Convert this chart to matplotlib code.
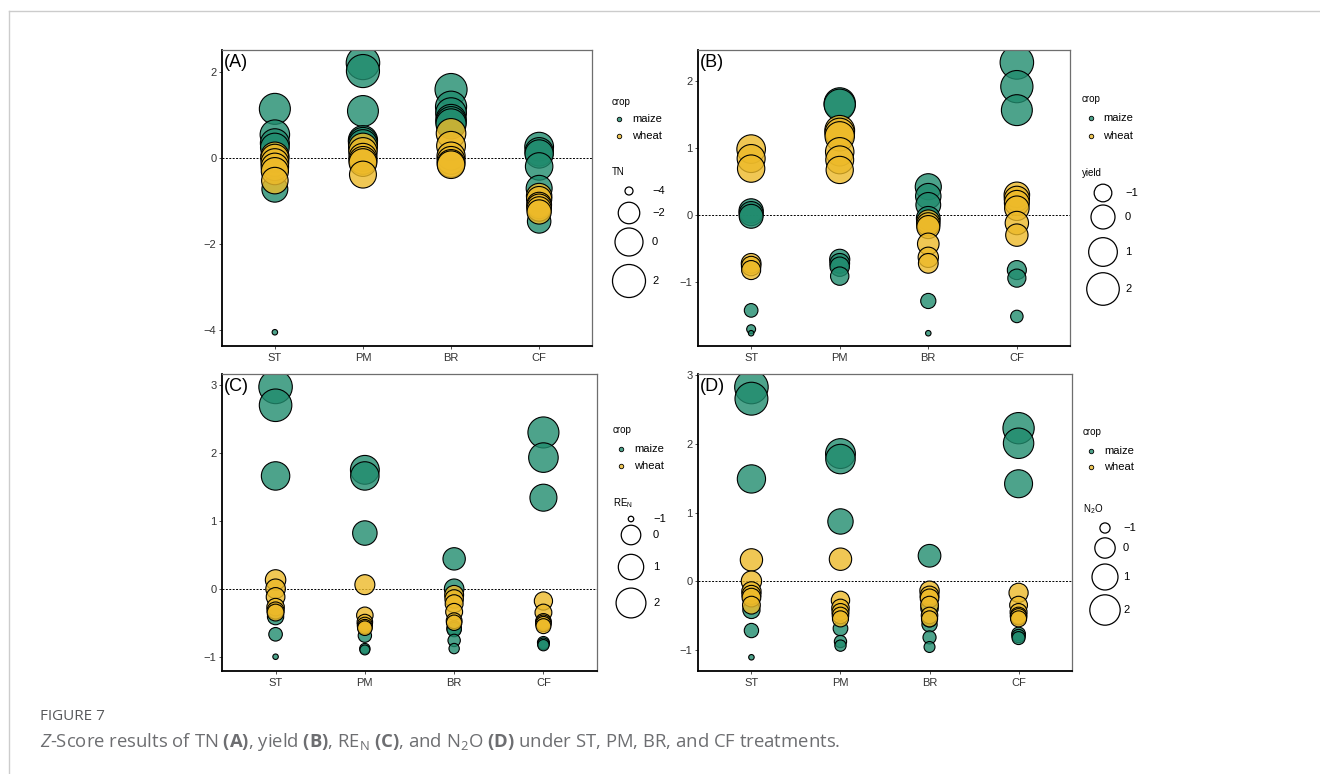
import matplotlib.pyplot as plt
import numpy as np
from matplotlib.lines import Line2D

plt.rcParams['font.family'] = ['Liberation Sans', 'DejaVu Sans']
plt.rcParams['mathtext.fontset'] = 'custom'
plt.rcParams['mathtext.rm'] = 'Open Sans'
plt.rcParams['mathtext.it'] = 'Open Sans:italic'
plt.rcParams['mathtext.bf'] = 'Open Sans:bold'

treatments = ['ST', 'PM', 'BR', 'CF']

# Z-scores, one list per treatment (ST, PM, BR, CF)
tn_maize = [[1.15, 0.55, 0.35, 0.25, -0.72, -4.05],
            [2.22, 2.03, 1.10, 0.42, 0.38, 0.33],
            [1.60, 1.20, 1.05, 0.90, 0.85, 0.80],
            [0.27, 0.15, 0.10, -0.19, -0.70, -1.47]]
tn_wheat = [[0.05, 0.00, -0.10, -0.20, -0.30, -0.52],
            [0.25, 0.15, 0.02, -0.05, -0.10, -0.38],
            [0.58, 0.29, 0.05, -0.05, -0.12, -0.15],
            [-0.88, -0.95, -1.08, -1.12, -1.18, -1.25]]

yield_maize = [[0.06, 0.02, -0.02, -1.42, -1.70, -1.76],
               [1.66, 1.64, -0.66, -0.72, -0.77, -0.91],
               [0.42, 0.28, 0.15, -0.05, -1.28, -1.76],
               [2.27, 1.91, 1.56, -0.82, -0.94, -1.51]]
yield_wheat = [[0.98, 0.84, 0.69, -0.72, -0.76, -0.82],
               [1.26, 1.22, 1.17, 0.94, 0.82, 0.67],
               [-0.10, -0.14, -0.18, -0.43, -0.63, -0.72],
               [0.30, 0.24, 0.18, 0.10, -0.12, -0.30]]

ren_maize = [[2.97, 2.70, 1.66, -0.41, -0.67, -1.00],
             [1.75, 1.66, 0.82, -0.69, -0.88, -0.90],
             [0.44, 0.00, -0.58, -0.60, -0.76, -0.88],
             [2.30, 1.93, 1.34, -0.79, -0.81, -0.83]]
ren_wheat = [[0.13, 0.00, -0.12, -0.27, -0.32, -0.35],
             [0.06, -0.39, -0.49, -0.53, -0.56, -0.58],
             [-0.09, -0.15, -0.22, -0.34, -0.47, -0.50],
             [-0.18, -0.35, -0.48, -0.50, -0.52, -0.55]]

n2o_maize = [[2.83, 2.66, 1.49, -0.42, -0.72, -1.11],
             [1.86, 1.78, 0.87, -0.69, -0.88, -0.94],
             [0.37, -0.40, -0.63, -0.82, -0.96, -0.55],
             [2.23, 2.01, 1.42, -0.77, -0.80, -0.83]]
n2o_wheat = [[0.31, 0.00, -0.15, -0.20, -0.24, -0.35],
             [0.32, -0.28, -0.39, -0.45, -0.50, -0.55],
             [-0.14, -0.21, -0.25, -0.35, -0.50, -0.55],
             [-0.17, -0.35, -0.45, -0.50, -0.52, -0.55]]

panel_tags = ['(A)', '(B)', '(C)', '(D)']
size_titles = ['TN', 'yield', 'RE$_\\mathregular{N}$', 'N$_\\mathregular{2}$O']
size_breaks = [[-4, -2, 0, 2], [-1, 0, 1, 2], [-1, 0, 1, 2], [-1, 0, 1, 2]]

maize_col = (0.13, 0.55, 0.43, 0.8)
wheat_col = (0.93, 0.73, 0.16, 0.8)

W, H = 1320, 774
fig = plt.figure(figsize=(W / 100, H / 100), dpi=100)

# axes boxes in pixels: left, top, right, bottom
boxes = [(222, 50, 592, 346), (698, 50, 1070, 346),
         (222, 374, 597, 671), (698, 374, 1072, 671)]
ylims = [(-4.37, 2.52), (-1.95, 2.455), (-1.21, 3.16), (-1.31, 3.02)]
yticks = [[-4, -2, 0, 2], [-1, 0, 1, 2], [-1, 0, 1, 2, 3], [-1, 0, 1, 2, 3]]

# legend anchor (pixels): crop title, size title, key/label x positions
legend_pos = [
    dict(tx=612, crop_y=[102, 119, 136], dot_x=619, lab_x=632, st_y=172,
         key_x=629, key_y=[191, 213, 242, 281], klab_x=652),
    dict(tx=1082, crop_y=[99, 118, 136], dot_x=1091, lab_x=1103, st_y=173,
         key_x=1103, key_y=[193, 217, 252, 289], klab_x=1125),
    dict(tx=613, crop_y=[430, 449, 466], dot_x=621, lab_x=634, st_y=503,
         key_x=631, key_y=[519, 535, 567, 603], klab_x=653),
    dict(tx=1083, crop_y=[432, 451, 467], dot_x=1091, lab_x=1104, st_y=509,
         key_x=1105, key_y=[528, 548, 577, 610], klab_x=1123),
]

data = [(tn_maize, tn_wheat), (yield_maize, yield_wheat),
        (ren_maize, ren_wheat), (n2o_maize, n2o_wheat)]


def area(v, vmin, vmax):
    v = np.asarray(v, dtype=float)
    d = 5.5 + 28 * np.sqrt(np.clip((v - vmin) / (vmax - vmin), 0, 1))
    return (d * 0.72) ** 2


ov = fig.add_axes([0, 0, 1, 1], zorder=5)
ov.set_xlim(0, W)
ov.set_ylim(H, 0)
ov.axis('off')

for k in range(4):
    l, t, r, b = boxes[k]
    ax = fig.add_axes([l / W, 1 - b / H, (r - l) / W, (b - t) / H])
    maize, wheat = data[k]
    allv = np.concatenate([np.ravel(maize), np.ravel(wheat)])
    vmin, vmax = allv.min(), allv.max()
    ax.axhline(0, color='black', lw=0.7, ls=(0, (2, 1.5)), zorder=1)
    for vals_set, col in ((maize, maize_col), (wheat, wheat_col)):
        for i, vals in enumerate(vals_set):
            ax.scatter(np.full(len(vals), i + 1), vals, s=area(vals, vmin, vmax),
                       facecolor=col, edgecolor='black', linewidth=0.8, zorder=2)
    ax.set_xlim(0.4, 4.6)
    ax.set_ylim(*ylims[k])
    ax.set_xticks(range(1, 5))
    ax.set_xticklabels(treatments, fontsize=9)
    ax.set_yticks(yticks[k])
    ax.tick_params(labelsize=8, length=2.5, width=0.6, colors='#333333', pad=1.5)
    ax.tick_params(axis='x', pad=2.5)
    for s in ('left', 'bottom'):
        ax.spines[s].set_linewidth(1.3)
        ax.spines[s].set_color('black')
    for s in ('top', 'right'):
        ax.spines[s].set_linewidth(0.9)
        ax.spines[s].set_color('#6e6e6e')
    ax.text(0.005, 0.985, panel_tags[k], transform=ax.transAxes, fontsize=13,
            ha='left', va='top')

    # legends
    p = legend_pos[k]
    ov.text(p['tx'], p['crop_y'][0], 'crop', fontsize=7, va='center', ha='left')
    for yy, name, col in zip(p['crop_y'][1:], ['maize', 'wheat'], [maize_col, wheat_col]):
        ov.scatter([p['dot_x']], [yy], s=(4.5 * 0.72) ** 2, facecolor=col,
                   edgecolor='black', linewidth=0.6)
        ov.text(p['lab_x'], yy, name, fontsize=8, va='center', ha='left')
    ov.text(p['tx'], p['st_y'], size_titles[k], fontsize=7, va='center', ha='left')
    for yy, br in zip(p['key_y'], size_breaks[k]):
        ov.scatter([p['key_x']], [yy], s=area([br], vmin, vmax), facecolor='none',
                   edgecolor='black', linewidth=0.9)
        ov.text(p['klab_x'], yy, str(br).replace('-', '\u2212'), fontsize=8,
                va='center', ha='left')

# page frame
fig.add_artist(Line2D([9 / W, 9 / W], [0, 1 - 11 / H], transform=fig.transFigure,
                      color='#cccccc', lw=1))
fig.add_artist(Line2D([9 / W, 1], [1 - 11 / H, 1 - 11 / H], transform=fig.transFigure,
                      color='#cccccc', lw=1))

fig.text(40 / W, 1 - 717 / H, 'FIGURE 7', fontsize=11, color='#58595b',
         family='Open Sans', va='center', ha='left')
caption = (r'$\it{Z}$-Score results of TN $\bf{(A)}$, yield $\bf{(B)}$, '
           r'RE$_\mathregular{N}$ $\bf{(C)}$, and N$_\mathregular{2}$O $\bf{(D)}$ '
           'under ST, PM, BR, and CF treatments.')
fig.text(40 / W, 1 - 742 / H, caption, fontsize=13.3, color='#6d6e71',
         family='Open Sans', va='center', ha='left')

fig.savefig('out.png', dpi=100)
